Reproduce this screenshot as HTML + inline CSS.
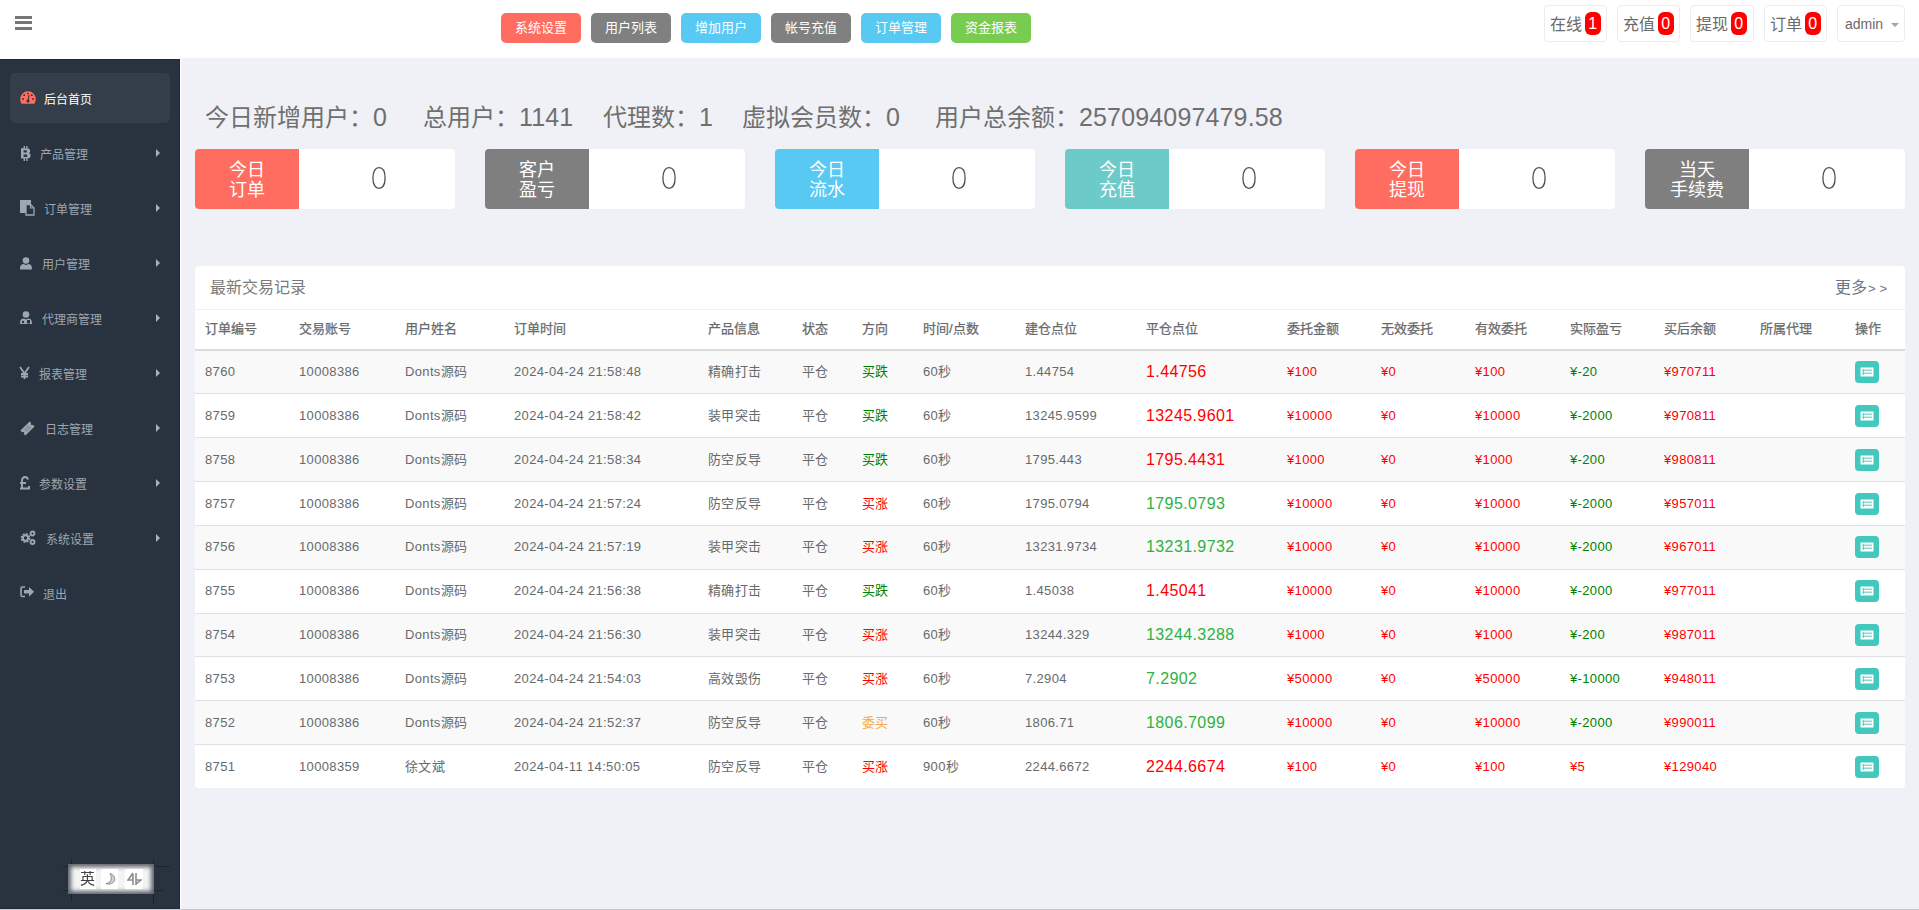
<!DOCTYPE html>
<html lang="zh-CN">
<head>
<meta charset="utf-8">
<style>
*{box-sizing:border-box;margin:0;padding:0}
html,body{width:1919px;height:910px;overflow:hidden}
body{position:relative;background:#f0f1f6;font-family:"Liberation Sans",sans-serif;color:#676a6c}
.abs{position:absolute}
#hdr{position:absolute;left:0;top:0;width:1919px;height:58px;background:#fff}
.ham{position:absolute;left:15px;width:17px;height:3px;background:#777}
.tb{position:absolute;top:13px;width:80px;height:30px;border-radius:5px;color:#fff;font-size:13px;line-height:30px;text-align:center}
.rb{position:absolute;top:5px;height:37px;border:1px solid #ebebf3;border-radius:4px;background:#fff;font-size:16px;color:#6b6b6b}
.rb .t{position:absolute;left:5px;top:9.5px;line-height:18px}
.rb .bd{position:absolute;top:6px;width:15.5px;height:23px;border-radius:6px;background:#f00;color:#fff;font-size:16px;line-height:23px;text-align:center}
#side{position:absolute;left:0;top:59px;width:180px;height:850px;background:#29333f;border-top:1px solid #202a37;border-right:1px solid #202a37;border-bottom:1px solid #222c39}
.si{position:absolute;left:0;width:179px;height:20px;font-size:12px;color:#9ea6b1}
.si .tx{position:absolute;top:1.5px;line-height:20px}
.si .ic{position:absolute;top:3px}
.si .ar{position:absolute;left:156px;top:6px;width:0;height:0;border-left:4px solid #aeb0b3;border-top:4px solid transparent;border-bottom:4px solid transparent}
#stats{position:absolute;top:101px;left:205px;font-size:24px;line-height:32px;color:#6f6f6f;white-space:nowrap}
#stats span{position:absolute;top:0}
#stats i{font-style:normal;font-size:25px;letter-spacing:0.15px}
.card{position:absolute;top:149px;width:260px;height:60px;border-radius:4px;background:#fff;overflow:hidden}
.card .lb{position:absolute;left:0;top:0;width:104px;height:60px;color:#fff;font-size:18px;line-height:20px;text-align:center;padding-top:11px}
.card .nm0{position:absolute;left:174.2px;top:13.9px}
.card .nm{position:absolute;left:104px;top:0;width:156px;height:60px;text-align:center;font-size:30px;line-height:60px;color:#5a5a5a}
#panel{position:absolute;left:195px;top:266px;width:1710px;height:522px;background:#fff;border-radius:4px;overflow:hidden}
.ptitle{position:absolute;left:15px;top:10px;font-size:16px;line-height:24px;color:#7a7a7a}
.pmore{position:absolute;left:1640px;top:10px;font-size:16px;line-height:24px;color:#6b7480}
.th{position:absolute;top:54px;font-size:13px;line-height:18px;font-weight:500;color:#676a6c;white-space:nowrap;-webkit-text-stroke:0.25px #676a6c}
.row{position:absolute;left:0;width:1710px;height:43px}
.td{position:absolute;top:12px;font-size:13px;line-height:18px;color:#676a6c;white-space:nowrap;letter-spacing:0.35px}
.td.big{font-size:16px;top:11px;line-height:20px;letter-spacing:0.4px}
.btn{position:absolute;top:10px;width:24px;height:22px;border-radius:4px;background:#42c8bd}
</style>
</head>
<body>
<div id="hdr">
  <div class="ham" style="top:16px"></div>
  <div class="ham" style="top:21px"></div>
  <div class="ham" style="top:27px"></div>
  <div class="tb" style="left:501px;background:#ff6c60">系统设置</div>
  <div class="tb" style="left:591px;background:#808080">用户列表</div>
  <div class="tb" style="left:681px;background:#58c9f3">增加用户</div>
  <div class="tb" style="left:771px;background:#808080">帐号充值</div>
  <div class="tb" style="left:861px;background:#58c9f3">订单管理</div>
  <div class="tb" style="left:951px;background:#78cd51">资金报表</div>

  <div class="rb" style="left:1544px;width:63px"><span class="t">在线</span><span class="bd" style="left:40px">1</span></div>
  <div class="rb" style="left:1617px;width:63px"><span class="t">充值</span><span class="bd" style="left:40px">0</span></div>
  <div class="rb" style="left:1690px;width:64px"><span class="t">提现</span><span class="bd" style="left:40px">0</span></div>
  <div class="rb" style="left:1764px;width:63px"><span class="t">订单</span><span class="bd" style="left:40px">0</span></div>
  <div class="rb" style="left:1837px;width:68px;font-size:14px"><span class="t" style="left:7px;top:9px">admin</span><span class="abs" style="left:53px;top:17px;width:0;height:0;border-top:4px solid #a0a3ad;border-left:4px solid transparent;border-right:4px solid transparent"></span></div>
</div>

<div id="side"><div class="abs" style="left:0;top:-1px;width:179px;height:850px">
<div class="abs" style="left:10px;top:14px;width:160px;height:50px;background:#343e4b;border-radius:5px"></div>
<div class="si" style="top:29px;color:#fff"><svg class="abs" style="left:20px;top:3px" width="16" height="13" viewBox="0 0 16 13"><path d="M8 0.3A7.8 7.8 0 0 0 0.2 8.1c0 1.7.5 3.3 1.4 4.6h12.8a7.8 7.8 0 0 0 1.4-4.6A7.8 7.8 0 0 0 8 0.3z" fill="#ff6c60"/><circle cx="8" cy="10" r="1.5" fill="#283340"/><path d="M8 10L9 4" stroke="#283340" stroke-width="1"/><circle cx="3" cy="8" r="0.9" fill="#283340"/><circle cx="13" cy="8" r="0.9" fill="#283340"/><circle cx="4.2" cy="4.2" r="0.9" fill="#283340"/><circle cx="11.8" cy="4.2" r="0.9" fill="#283340"/><circle cx="8" cy="2.6" r="0.9" fill="#283340"/></svg><span class="tx" style="left:44px">后台首页</span></div>
<div class="si" style="top:84px"><div class="abs" style="left:0;top:10px"><svg class="abs" style="left:20px;top:-7px" width="12" height="15" viewBox="0 0 12 15"><path d="M1 2.2h6c2 0 3.2 1 3.2 2.7 0 1-.6 1.8-1.5 2.2 1.2.3 1.9 1.2 1.9 2.4 0 1.9-1.3 3-3.4 3H1z" fill="#9ea6b1"/><rect x="3.6" y="4.3" width="3.2" height="2.2" fill="#29333f"/><rect x="3.6" y="8.5" width="3.6" height="2.4" fill="#29333f"/><rect x="3.6" y="0" width="1.4" height="2.5" fill="#9ea6b1"/><rect x="6.2" y="0" width="1.4" height="2.5" fill="#9ea6b1"/><rect x="3.6" y="12.3" width="1.4" height="2.7" fill="#9ea6b1"/><rect x="6.2" y="12.3" width="1.4" height="2.7" fill="#9ea6b1"/></svg></div><span class="tx" style="left:40px">产品管理</span><span class="ar"></span></div>
<div class="si" style="top:139px"><div class="abs" style="left:0;top:10px"><svg class="abs" style="left:20px;top:-8px" width="16" height="16" viewBox="0 0 16 16"><rect x="0" y="0" width="11" height="13" fill="#9ea6b1"/><path d="M6 4.5h4.5l3.5 3.5v7H6z" fill="#283340" stroke="#9ea6b1" stroke-width="1.3"/><path d="M10.5 4.5v3.5h3.5" fill="none" stroke="#9ea6b1" stroke-width="1.2"/></svg></div><span class="tx" style="left:44px">订单管理</span><span class="ar"></span></div>
<div class="si" style="top:194px"><div class="abs" style="left:0;top:10px"><svg class="abs" style="left:20px;top:-6px" width="13" height="13" viewBox="0 0 13 13"><circle cx="6" cy="3.5" r="3.3" fill="#9ea6b1"/><path d="M0 12.5c0-4 1.2-5.2 3.5-5.5l2.5 1 2.5-1c2.3.3 3.5 1.5 3.5 5.5z" fill="#9ea6b1"/></svg></div><span class="tx" style="left:42px">用户管理</span><span class="ar"></span></div>
<div class="si" style="top:249px"><div class="abs" style="left:0;top:10px"><svg class="abs" style="left:20px;top:-7px" width="13" height="14" viewBox="0 0 13 14"><circle cx="6" cy="3.5" r="3.3" fill="#9ea6b1"/><path d="M0 13c0-4 1.2-5.2 3.5-5.5l2.5 1 2.5-1c2.3.3 3.5 1.5 3.5 5.5z" fill="#9ea6b1"/><circle cx="3" cy="11" r="1.2" fill="#283340"/><rect x="7" y="9" width="3" height="3.5" fill="#283340"/></svg></div><span class="tx" style="left:42px">代理商管理</span><span class="ar"></span></div>
<div class="si" style="top:304px"><div class="abs" style="left:0;top:10px"><svg class="abs" style="left:19px;top:-7px" width="11" height="14" viewBox="0 0 11 14"><path d="M1 1l4.5 6.5L10 1M5.5 7.5V13M2 8h7M2 10.5h7" fill="none" stroke="#9ea6b1" stroke-width="1.8"/></svg></div><span class="tx" style="left:39px">报表管理</span><span class="ar"></span></div>
<div class="si" style="top:359px"><div class="abs" style="left:0;top:10px"><svg class="abs" style="left:20px;top:-7px" width="15" height="15" viewBox="0 0 15 15"><g transform="rotate(-45 7.5 7.5)"><path d="M1 4h13v2.2a1.3 1.3 0 0 0 0 2.6V11H1V8.8a1.3 1.3 0 0 0 0-2.6z" fill="#9ea6b1"/><rect x="4" y="5.5" width="7" height="4" fill="#8e96a0"/></g></svg></div><span class="tx" style="left:45px">日志管理</span><span class="ar"></span></div>
<div class="si" style="top:414px"><div class="abs" style="left:0;top:10px"><svg class="abs" style="left:19px;top:-7px" width="11" height="14" viewBox="0 0 11 14"><path d="M9 3.5C8.5 1.8 7.5 1 6 1 4 1 3 2.5 3 4.5V12M1 7h6M1 12.5h9V10" fill="none" stroke="#9ea6b1" stroke-width="1.9"/></svg></div><span class="tx" style="left:39px">参数设置</span><span class="ar"></span></div>
<div class="si" style="top:469px"><div class="abs" style="left:0;top:10px"><svg class="abs" style="left:20px;top:-8px" width="17" height="16" viewBox="0 0 17 16"><circle cx="5.5" cy="8" r="3.6" fill="none" stroke="#9ea6b1" stroke-width="2.6" stroke-dasharray="1.8 1"/><circle cx="5.5" cy="8" r="2.6" fill="none" stroke="#9ea6b1" stroke-width="1.8"/><circle cx="12.5" cy="3.5" r="2" fill="none" stroke="#9ea6b1" stroke-width="1.8"/><circle cx="12.5" cy="12" r="2" fill="none" stroke="#9ea6b1" stroke-width="1.8"/></svg></div><span class="tx" style="left:46px">系统设置</span><span class="ar"></span></div>
<div class="si" style="top:524px"><div class="abs" style="left:0;top:10px"><svg class="abs" style="left:20px;top:-7px" width="15" height="12" viewBox="0 0 15 12"><path d="M5 1H2.5C1.5 1 1 1.6 1 2.5v6.5c0 .9.5 1.5 1.5 1.5H5" fill="none" stroke="#9ea6b1" stroke-width="1.6"/><path d="M4 4h5V1l5 4.8L9 10.7V7.5H4z" fill="#9ea6b1"/></svg></div><span class="tx" style="left:43px">退出</span></div>
</div></div>

<div id="stats"><span style="left:0">今日新增用户：<i>0</i></span><span style="left:218px">总用户：<i>1141</i></span><span style="left:398px">代理数：<i>1</i></span><span style="left:537px">虚拟会员数：<i>0</i></span><span style="left:730px">用户总余额：<i>257094097479.58</i></span></div>

<div class="card" style="left:195px"><div class="lb" style="background:#ff6c60">今日<br>订单</div><svg class="nm0" width="20" height="30" viewBox="0 0 20 30"><path d="M10 4.6C13.6 4.6 16.1 8.4 16.1 15C16.1 21.6 13.6 25.4 10 25.4C6.4 25.4 3.9 21.6 3.9 15C3.9 8.4 6.4 4.6 10 4.6Z" fill="none" stroke="#4a4a4a" stroke-width="1.25"/></svg></div>
<div class="card" style="left:485px"><div class="lb" style="background:#7f7f7f">客户<br>盈亏</div><svg class="nm0" width="20" height="30" viewBox="0 0 20 30"><path d="M10 4.6C13.6 4.6 16.1 8.4 16.1 15C16.1 21.6 13.6 25.4 10 25.4C6.4 25.4 3.9 21.6 3.9 15C3.9 8.4 6.4 4.6 10 4.6Z" fill="none" stroke="#4a4a4a" stroke-width="1.25"/></svg></div>
<div class="card" style="left:775px"><div class="lb" style="background:#58c9f3">今日<br>流水</div><svg class="nm0" width="20" height="30" viewBox="0 0 20 30"><path d="M10 4.6C13.6 4.6 16.1 8.4 16.1 15C16.1 21.6 13.6 25.4 10 25.4C6.4 25.4 3.9 21.6 3.9 15C3.9 8.4 6.4 4.6 10 4.6Z" fill="none" stroke="#4a4a4a" stroke-width="1.25"/></svg></div>
<div class="card" style="left:1065px"><div class="lb" style="background:#6ccac9">今日<br>充值</div><svg class="nm0" width="20" height="30" viewBox="0 0 20 30"><path d="M10 4.6C13.6 4.6 16.1 8.4 16.1 15C16.1 21.6 13.6 25.4 10 25.4C6.4 25.4 3.9 21.6 3.9 15C3.9 8.4 6.4 4.6 10 4.6Z" fill="none" stroke="#4a4a4a" stroke-width="1.25"/></svg></div>
<div class="card" style="left:1355px"><div class="lb" style="background:#ff6c60">今日<br>提现</div><svg class="nm0" width="20" height="30" viewBox="0 0 20 30"><path d="M10 4.6C13.6 4.6 16.1 8.4 16.1 15C16.1 21.6 13.6 25.4 10 25.4C6.4 25.4 3.9 21.6 3.9 15C3.9 8.4 6.4 4.6 10 4.6Z" fill="none" stroke="#4a4a4a" stroke-width="1.25"/></svg></div>
<div class="card" style="left:1645px"><div class="lb" style="background:#7f7f7f">当天<br>手续费</div><svg class="nm0" width="20" height="30" viewBox="0 0 20 30"><path d="M10 4.6C13.6 4.6 16.1 8.4 16.1 15C16.1 21.6 13.6 25.4 10 25.4C6.4 25.4 3.9 21.6 3.9 15C3.9 8.4 6.4 4.6 10 4.6Z" fill="none" stroke="#4a4a4a" stroke-width="1.25"/></svg></div>
<div id="panel">
<div class="ptitle">最新交易记录</div><div class="pmore">更多<span style="position:absolute;left:33px;top:0.5px;font-size:13px;letter-spacing:4px;color:#6b7480">&gt;&gt;</span></div>
<div class="abs" style="left:0;top:43px;width:1710px;height:1px;background:#eef0f4"></div>
<span class="th" style="left:10px">订单编号</span>
<span class="th" style="left:104px">交易账号</span>
<span class="th" style="left:210px">用户姓名</span>
<span class="th" style="left:319px">订单时间</span>
<span class="th" style="left:513px">产品信息</span>
<span class="th" style="left:607px">状态</span>
<span class="th" style="left:667px">方向</span>
<span class="th" style="left:728px">时间/点数</span>
<span class="th" style="left:830px">建仓点位</span>
<span class="th" style="left:951px">平仓点位</span>
<span class="th" style="left:1092px">委托金额</span>
<span class="th" style="left:1186px">无效委托</span>
<span class="th" style="left:1280px">有效委托</span>
<span class="th" style="left:1375px">实际盈亏</span>
<span class="th" style="left:1469px">买后余额</span>
<span class="th" style="left:1565px">所属代理</span>
<span class="th" style="left:1660px">操作</span>
<div class="abs" style="left:0;top:83px;width:1710px;height:2px;background:#dcdcdc"></div>
<div class="abs" style="left:0;top:85px;width:1710px;height:42px;background:#f9f9f9"></div>
<div class="abs" style="left:0;top:172px;width:1710px;height:43px;background:#f9f9f9"></div>
<div class="abs" style="left:0;top:260px;width:1710px;height:43px;background:#f9f9f9"></div>
<div class="abs" style="left:0;top:348px;width:1710px;height:42px;background:#f9f9f9"></div>
<div class="abs" style="left:0;top:435px;width:1710px;height:43px;background:#f9f9f9"></div>
<div class="row" style="top:85.000px"><span class="td" style="left:10px">8760</span><span class="td" style="left:104px">10008386</span><span class="td" style="left:210px">Donts源码</span><span class="td" style="left:319px">2024-04-24 21:58:48</span><span class="td" style="left:513px">精确打击</span><span class="td" style="left:607px">平仓</span><span class="td" style="left:667px;color:#008000">买跌</span><span class="td" style="left:728px">60秒</span><span class="td" style="left:830px">1.44754</span><span class="td big" style="left:951px;color:#f00">1.44756</span><span class="td" style="left:1092px;color:#f00">¥100</span><span class="td" style="left:1186px;color:#f00">¥0</span><span class="td" style="left:1280px;color:#f00">¥100</span><span class="td" style="left:1375px;color:#008000">¥-20</span><span class="td" style="left:1469px;color:#f00">¥970711</span><span class="btn" style="left:1660px"><svg width="14" height="10" viewBox="0 0 14 10" style="position:absolute;left:5px;top:6px"><rect x="0.5" y="0.5" width="13" height="9" fill="#fff"/><rect x="2" y="2.5" width="10" height="1.6" fill="#8fd9d3"/><rect x="2" y="5.5" width="10" height="1.6" fill="#8fd9d3"/><rect x="3" y="2" width="1" height="6" fill="#9cb7d6"/></svg></span></div>
<div class="abs" style="left:0;top:127px;width:1710px;height:1px;background:#e0e0e0"></div>
<div class="row" style="top:128.857px"><span class="td" style="left:10px">8759</span><span class="td" style="left:104px">10008386</span><span class="td" style="left:210px">Donts源码</span><span class="td" style="left:319px">2024-04-24 21:58:42</span><span class="td" style="left:513px">装甲突击</span><span class="td" style="left:607px">平仓</span><span class="td" style="left:667px;color:#008000">买跌</span><span class="td" style="left:728px">60秒</span><span class="td" style="left:830px">13245.9599</span><span class="td big" style="left:951px;color:#f00">13245.9601</span><span class="td" style="left:1092px;color:#f00">¥10000</span><span class="td" style="left:1186px;color:#f00">¥0</span><span class="td" style="left:1280px;color:#f00">¥10000</span><span class="td" style="left:1375px;color:#008000">¥-2000</span><span class="td" style="left:1469px;color:#f00">¥970811</span><span class="btn" style="left:1660px"><svg width="14" height="10" viewBox="0 0 14 10" style="position:absolute;left:5px;top:6px"><rect x="0.5" y="0.5" width="13" height="9" fill="#fff"/><rect x="2" y="2.5" width="10" height="1.6" fill="#8fd9d3"/><rect x="2" y="5.5" width="10" height="1.6" fill="#8fd9d3"/><rect x="3" y="2" width="1" height="6" fill="#9cb7d6"/></svg></span></div>
<div class="abs" style="left:0;top:171px;width:1710px;height:1px;background:#e0e0e0"></div>
<div class="row" style="top:172.714px"><span class="td" style="left:10px">8758</span><span class="td" style="left:104px">10008386</span><span class="td" style="left:210px">Donts源码</span><span class="td" style="left:319px">2024-04-24 21:58:34</span><span class="td" style="left:513px">防空反导</span><span class="td" style="left:607px">平仓</span><span class="td" style="left:667px;color:#008000">买跌</span><span class="td" style="left:728px">60秒</span><span class="td" style="left:830px">1795.443</span><span class="td big" style="left:951px;color:#f00">1795.4431</span><span class="td" style="left:1092px;color:#f00">¥1000</span><span class="td" style="left:1186px;color:#f00">¥0</span><span class="td" style="left:1280px;color:#f00">¥1000</span><span class="td" style="left:1375px;color:#008000">¥-200</span><span class="td" style="left:1469px;color:#f00">¥980811</span><span class="btn" style="left:1660px"><svg width="14" height="10" viewBox="0 0 14 10" style="position:absolute;left:5px;top:6px"><rect x="0.5" y="0.5" width="13" height="9" fill="#fff"/><rect x="2" y="2.5" width="10" height="1.6" fill="#8fd9d3"/><rect x="2" y="5.5" width="10" height="1.6" fill="#8fd9d3"/><rect x="3" y="2" width="1" height="6" fill="#9cb7d6"/></svg></span></div>
<div class="abs" style="left:0;top:215px;width:1710px;height:1px;background:#e0e0e0"></div>
<div class="row" style="top:216.571px"><span class="td" style="left:10px">8757</span><span class="td" style="left:104px">10008386</span><span class="td" style="left:210px">Donts源码</span><span class="td" style="left:319px">2024-04-24 21:57:24</span><span class="td" style="left:513px">防空反导</span><span class="td" style="left:607px">平仓</span><span class="td" style="left:667px;color:#f00">买涨</span><span class="td" style="left:728px">60秒</span><span class="td" style="left:830px">1795.0794</span><span class="td big" style="left:951px;color:#2eb23f">1795.0793</span><span class="td" style="left:1092px;color:#f00">¥10000</span><span class="td" style="left:1186px;color:#f00">¥0</span><span class="td" style="left:1280px;color:#f00">¥10000</span><span class="td" style="left:1375px;color:#008000">¥-2000</span><span class="td" style="left:1469px;color:#f00">¥957011</span><span class="btn" style="left:1660px"><svg width="14" height="10" viewBox="0 0 14 10" style="position:absolute;left:5px;top:6px"><rect x="0.5" y="0.5" width="13" height="9" fill="#fff"/><rect x="2" y="2.5" width="10" height="1.6" fill="#8fd9d3"/><rect x="2" y="5.5" width="10" height="1.6" fill="#8fd9d3"/><rect x="3" y="2" width="1" height="6" fill="#9cb7d6"/></svg></span></div>
<div class="abs" style="left:0;top:259px;width:1710px;height:1px;background:#e0e0e0"></div>
<div class="row" style="top:260.428px"><span class="td" style="left:10px">8756</span><span class="td" style="left:104px">10008386</span><span class="td" style="left:210px">Donts源码</span><span class="td" style="left:319px">2024-04-24 21:57:19</span><span class="td" style="left:513px">装甲突击</span><span class="td" style="left:607px">平仓</span><span class="td" style="left:667px;color:#f00">买涨</span><span class="td" style="left:728px">60秒</span><span class="td" style="left:830px">13231.9734</span><span class="td big" style="left:951px;color:#2eb23f">13231.9732</span><span class="td" style="left:1092px;color:#f00">¥10000</span><span class="td" style="left:1186px;color:#f00">¥0</span><span class="td" style="left:1280px;color:#f00">¥10000</span><span class="td" style="left:1375px;color:#008000">¥-2000</span><span class="td" style="left:1469px;color:#f00">¥967011</span><span class="btn" style="left:1660px"><svg width="14" height="10" viewBox="0 0 14 10" style="position:absolute;left:5px;top:6px"><rect x="0.5" y="0.5" width="13" height="9" fill="#fff"/><rect x="2" y="2.5" width="10" height="1.6" fill="#8fd9d3"/><rect x="2" y="5.5" width="10" height="1.6" fill="#8fd9d3"/><rect x="3" y="2" width="1" height="6" fill="#9cb7d6"/></svg></span></div>
<div class="abs" style="left:0;top:303px;width:1710px;height:1px;background:#e0e0e0"></div>
<div class="row" style="top:304.285px"><span class="td" style="left:10px">8755</span><span class="td" style="left:104px">10008386</span><span class="td" style="left:210px">Donts源码</span><span class="td" style="left:319px">2024-04-24 21:56:38</span><span class="td" style="left:513px">精确打击</span><span class="td" style="left:607px">平仓</span><span class="td" style="left:667px;color:#008000">买跌</span><span class="td" style="left:728px">60秒</span><span class="td" style="left:830px">1.45038</span><span class="td big" style="left:951px;color:#f00">1.45041</span><span class="td" style="left:1092px;color:#f00">¥10000</span><span class="td" style="left:1186px;color:#f00">¥0</span><span class="td" style="left:1280px;color:#f00">¥10000</span><span class="td" style="left:1375px;color:#008000">¥-2000</span><span class="td" style="left:1469px;color:#f00">¥977011</span><span class="btn" style="left:1660px"><svg width="14" height="10" viewBox="0 0 14 10" style="position:absolute;left:5px;top:6px"><rect x="0.5" y="0.5" width="13" height="9" fill="#fff"/><rect x="2" y="2.5" width="10" height="1.6" fill="#8fd9d3"/><rect x="2" y="5.5" width="10" height="1.6" fill="#8fd9d3"/><rect x="3" y="2" width="1" height="6" fill="#9cb7d6"/></svg></span></div>
<div class="abs" style="left:0;top:347px;width:1710px;height:1px;background:#e0e0e0"></div>
<div class="row" style="top:348.142px"><span class="td" style="left:10px">8754</span><span class="td" style="left:104px">10008386</span><span class="td" style="left:210px">Donts源码</span><span class="td" style="left:319px">2024-04-24 21:56:30</span><span class="td" style="left:513px">装甲突击</span><span class="td" style="left:607px">平仓</span><span class="td" style="left:667px;color:#f00">买涨</span><span class="td" style="left:728px">60秒</span><span class="td" style="left:830px">13244.329</span><span class="td big" style="left:951px;color:#2eb23f">13244.3288</span><span class="td" style="left:1092px;color:#f00">¥1000</span><span class="td" style="left:1186px;color:#f00">¥0</span><span class="td" style="left:1280px;color:#f00">¥1000</span><span class="td" style="left:1375px;color:#008000">¥-200</span><span class="td" style="left:1469px;color:#f00">¥987011</span><span class="btn" style="left:1660px"><svg width="14" height="10" viewBox="0 0 14 10" style="position:absolute;left:5px;top:6px"><rect x="0.5" y="0.5" width="13" height="9" fill="#fff"/><rect x="2" y="2.5" width="10" height="1.6" fill="#8fd9d3"/><rect x="2" y="5.5" width="10" height="1.6" fill="#8fd9d3"/><rect x="3" y="2" width="1" height="6" fill="#9cb7d6"/></svg></span></div>
<div class="abs" style="left:0;top:390px;width:1710px;height:1px;background:#e0e0e0"></div>
<div class="row" style="top:391.999px"><span class="td" style="left:10px">8753</span><span class="td" style="left:104px">10008386</span><span class="td" style="left:210px">Donts源码</span><span class="td" style="left:319px">2024-04-24 21:54:03</span><span class="td" style="left:513px">高效毁伤</span><span class="td" style="left:607px">平仓</span><span class="td" style="left:667px;color:#f00">买涨</span><span class="td" style="left:728px">60秒</span><span class="td" style="left:830px">7.2904</span><span class="td big" style="left:951px;color:#2eb23f">7.2902</span><span class="td" style="left:1092px;color:#f00">¥50000</span><span class="td" style="left:1186px;color:#f00">¥0</span><span class="td" style="left:1280px;color:#f00">¥50000</span><span class="td" style="left:1375px;color:#008000">¥-10000</span><span class="td" style="left:1469px;color:#f00">¥948011</span><span class="btn" style="left:1660px"><svg width="14" height="10" viewBox="0 0 14 10" style="position:absolute;left:5px;top:6px"><rect x="0.5" y="0.5" width="13" height="9" fill="#fff"/><rect x="2" y="2.5" width="10" height="1.6" fill="#8fd9d3"/><rect x="2" y="5.5" width="10" height="1.6" fill="#8fd9d3"/><rect x="3" y="2" width="1" height="6" fill="#9cb7d6"/></svg></span></div>
<div class="abs" style="left:0;top:434px;width:1710px;height:1px;background:#e0e0e0"></div>
<div class="row" style="top:435.856px"><span class="td" style="left:10px">8752</span><span class="td" style="left:104px">10008386</span><span class="td" style="left:210px">Donts源码</span><span class="td" style="left:319px">2024-04-24 21:52:37</span><span class="td" style="left:513px">防空反导</span><span class="td" style="left:607px">平仓</span><span class="td" style="left:667px;color:#f0ad4e">委买</span><span class="td" style="left:728px">60秒</span><span class="td" style="left:830px">1806.71</span><span class="td big" style="left:951px;color:#2eb23f">1806.7099</span><span class="td" style="left:1092px;color:#f00">¥10000</span><span class="td" style="left:1186px;color:#f00">¥0</span><span class="td" style="left:1280px;color:#f00">¥10000</span><span class="td" style="left:1375px;color:#008000">¥-2000</span><span class="td" style="left:1469px;color:#f00">¥990011</span><span class="btn" style="left:1660px"><svg width="14" height="10" viewBox="0 0 14 10" style="position:absolute;left:5px;top:6px"><rect x="0.5" y="0.5" width="13" height="9" fill="#fff"/><rect x="2" y="2.5" width="10" height="1.6" fill="#8fd9d3"/><rect x="2" y="5.5" width="10" height="1.6" fill="#8fd9d3"/><rect x="3" y="2" width="1" height="6" fill="#9cb7d6"/></svg></span></div>
<div class="abs" style="left:0;top:478px;width:1710px;height:1px;background:#e0e0e0"></div>
<div class="row" style="top:479.713px"><span class="td" style="left:10px">8751</span><span class="td" style="left:104px">10008359</span><span class="td" style="left:210px">徐文斌</span><span class="td" style="left:319px">2024-04-11 14:50:05</span><span class="td" style="left:513px">防空反导</span><span class="td" style="left:607px">平仓</span><span class="td" style="left:667px;color:#f00">买涨</span><span class="td" style="left:728px">900秒</span><span class="td" style="left:830px">2244.6672</span><span class="td big" style="left:951px;color:#f00">2244.6674</span><span class="td" style="left:1092px;color:#f00">¥100</span><span class="td" style="left:1186px;color:#f00">¥0</span><span class="td" style="left:1280px;color:#f00">¥100</span><span class="td" style="left:1375px;color:#f00">¥5</span><span class="td" style="left:1469px;color:#f00">¥129040</span><span class="btn" style="left:1660px"><svg width="14" height="10" viewBox="0 0 14 10" style="position:absolute;left:5px;top:6px"><rect x="0.5" y="0.5" width="13" height="9" fill="#fff"/><rect x="2" y="2.5" width="10" height="1.6" fill="#8fd9d3"/><rect x="2" y="5.5" width="10" height="1.6" fill="#8fd9d3"/><rect x="3" y="2" width="1" height="6" fill="#9cb7d6"/></svg></span></div>
</div>

<div class="abs" style="left:180px;top:58px;width:1px;height:851px;background:#fff"></div>
<div class="abs" style="left:0;top:58px;width:181px;height:1px;background:#fff"></div>
<div class="abs" style="left:0;top:909px;width:1919px;height:1px;background:#c5c9d2"></div>
<div id="ime">
 <div class="abs" style="left:71px;top:860px;width:1px;height:41px;background:rgba(15,15,15,.55)"></div>
 <div class="abs" style="left:153px;top:860px;width:1px;height:44px;background:rgba(15,15,15,.5)"></div>
 <div class="abs" style="left:63px;top:866px;width:107px;height:1px;background:rgba(15,15,15,.4)"></div>
 <div class="abs" style="left:63px;top:890px;width:100px;height:1px;background:rgba(15,15,15,.4)"></div>
 <div class="abs" style="left:68px;top:864px;width:86px;height:30px;background:#f4f4f4;box-shadow:inset 0 0 4px 3px #5d6168;filter:blur(0.6px)"></div>
 <div class="abs" style="left:80px;top:869px;width:16px;height:20px;background:#fff"></div>
 <div class="abs" style="left:101px;top:869px;width:17px;height:20px;background:#fff"></div>
 <div class="abs" style="left:125px;top:869px;width:18px;height:20px;background:#fff"></div>
 <span class="abs" style="left:80px;top:870px;font-size:15px;line-height:18px;color:#444;filter:blur(0.3px)">英</span>
 <svg class="abs" style="left:103px;top:872px" width="14" height="14" viewBox="0 0 14 14"><path d="M7 1.5c3.5 1 5.5 4 4.5 7-1 3-4.5 4.2-8.5 3.2 2.8-.6 5-2.2 5.2-5 .2-2-.3-3.8-1.2-5.2z" fill="#cfcfcf" stroke="#8a8a8a" stroke-width="1"/></svg>
 <svg class="abs" style="left:127px;top:872px" width="15" height="15" viewBox="0 0 15 15"><path d="M6 1L1 8h5M6 2v11M9 1v12M9 8h5l-5 4" fill="none" stroke="#8d8d8d" stroke-width="1.6"/></svg>
</div>
</body>
</html>
